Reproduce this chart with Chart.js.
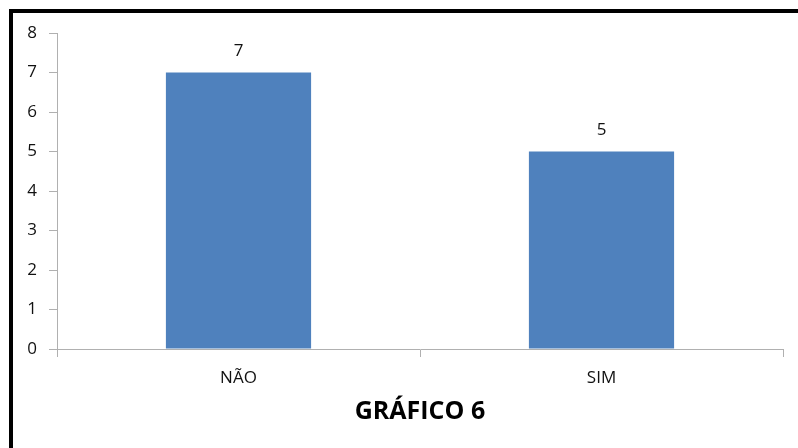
<!DOCTYPE html>
<html>
<head>
<meta charset="utf-8">
<script src="https://cdn.jsdelivr.net/npm/chart.js@4.4.1/dist/chart.umd.min.js"></script>
<style>
  html, body { margin: 0; padding: 0; background: #fff; }
  #wrap { position: relative; width: 798px; height: 448px; overflow: hidden; }
  #frame { position: absolute; left: 9px; top: 9px; width: 800px; height: 450px;
           border-left: 4px solid #000; border-top: 4px solid #000; box-sizing: border-box; }
  canvas { position: absolute; left: 0; top: 0; }
</style>
</head>
<body>
<div id="wrap">
  <canvas id="c" width="798" height="448"></canvas>
  <div id="frame"></div>
</div>
<script>
const categories = ['NÃO', 'SIM'];
const values = [7, 5];
const yTicks = [0, 1, 2, 3, 4, 5, 6, 7, 8];
const chartTitle = 'GRÁFICO 6';

const FONT = "'Open Sans', 'Liberation Sans', sans-serif";

const dataLabels = {
  id: 'dataLabels',
  afterDatasetsDraw(chart) {
    const ctx = chart.ctx;
    const meta = chart.getDatasetMeta(0);
    ctx.save();
    ctx.font = '17px ' + FONT;
    ctx.fillStyle = '#111';
    ctx.textAlign = 'center';
    ctx.textBaseline = 'middle';
    meta.data.forEach((bar, i) => {
      ctx.fillText(String(values[i]), bar.x, bar.y - 21);
    });
    ctx.restore();
  }
};

const bottomTitle = {
  id: 'bottomTitle',
  afterDraw(chart) {
    const ctx = chart.ctx;
    const a = chart.chartArea;
    ctx.save();
    ctx.font = 'bold 25px ' + FONT;
    ctx.fillStyle = '#000';
    ctx.textAlign = 'center';
    ctx.textBaseline = 'middle';
    ctx.fillText(chartTitle, (a.left + a.right) / 2, a.bottom + 63);
    ctx.restore();
  }
};

new Chart(document.getElementById('c'), {
  type: 'bar',
  data: {
    labels: categories,
    datasets: [{
      data: values,
      backgroundColor: '#4F81BD',
      borderWidth: 0,
      categoryPercentage: 0.8,
      barPercentage: 0.5
    }]
  },
  options: {
    responsive: false,
    animation: false,
    devicePixelRatio: 1,
    layout: { padding: { left: 0, right: 15, top: 33, bottom: 51 } },
    plugins: {
      legend: { display: false },
      tooltip: { enabled: false },
      title: { display: false }
    },
    scales: {
      x: {
        offset: true,
        grid: {
          display: true,
          drawOnChartArea: false,
          drawTicks: true,
          tickLength: 8,
          offset: true,
          color: '#b0b0b0'
        },
        border: { display: true, color: '#b0b0b0', width: 1 },
        ticks: {
          color: '#111',
          font: { family: FONT, size: 17 },
          padding: 11,
          maxRotation: 0
        },
        afterFit(scale) { scale.height = 48; }
      },
      y: {
        min: 0,
        max: 8,
        afterBuildTicks(scale) { scale.ticks = yTicks.map(v => ({ value: v })); },
        grid: {
          display: true,
          drawOnChartArea: false,
          drawTicks: true,
          tickLength: 8,
          color: '#b0b0b0'
        },
        border: { display: true, color: '#b0b0b0', width: 1 },
        ticks: {
          color: '#111',
          font: { family: FONT, size: 17 },
          padding: 12
        },
        afterFit(scale) { scale.width = 57; }
      }
    }
  },
  plugins: [dataLabels, bottomTitle]
});
</script>
</body>
</html>
